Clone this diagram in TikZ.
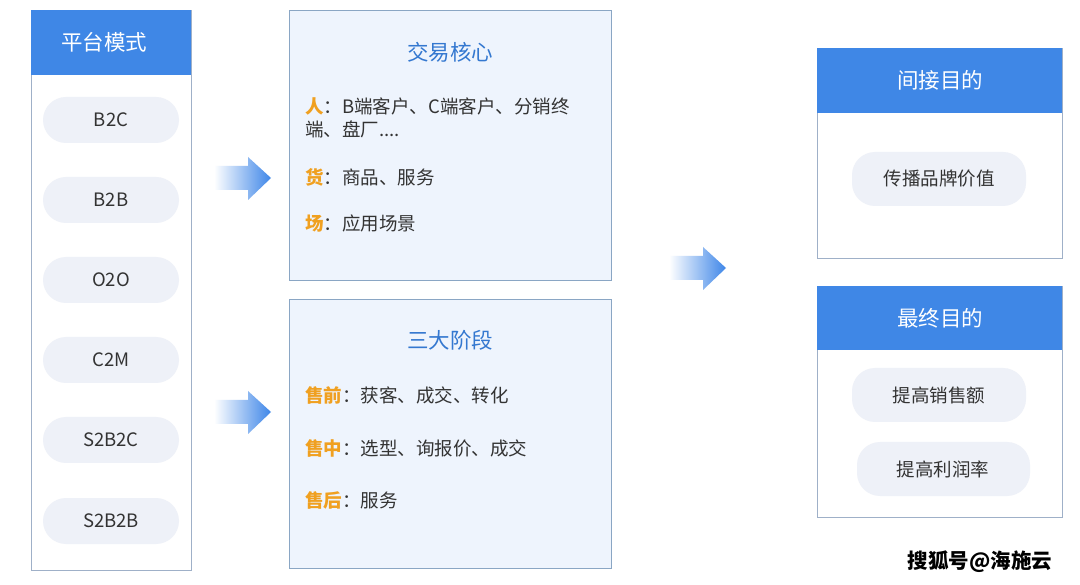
\documentclass[tikz,border=0pt]{standalone}
\usepackage{fontspec}
\setmainfont{Noto Sans CJK SC}
\definecolor{hdr}{HTML}{3F87E6}
\definecolor{pill}{HTML}{EEF1F8}
\definecolor{txt}{HTML}{333333}
\definecolor{bord}{HTML}{9FB0C8}
\definecolor{midfill}{HTML}{EEF4FD}
\definecolor{midbord}{HTML}{8AA6C4}
\definecolor{ttl}{HTML}{3478D0}
\definecolor{org}{HTML}{F0A020}
\definecolor{arr}{HTML}{3E86E8}
\tikzset{
  panel/.style={draw=bord, line width=0.8pt, fill=white},
  midbox/.style={draw=midbord, line width=0.8pt, fill=midfill},
  header/.style={fill=hdr, draw=none},
  hdrtext/.style={text=white, font=\fontsize{21.5}{24}\selectfont},
  pillbox/.style={fill=pill, rounded corners=23pt, draw=none},
  pilltext/.style={text=txt, font=\fontsize{18.5}{22}\selectfont},
  midtitle/.style={text=ttl, font=\fontsize{21.5}{24}\selectfont},
  line/.style={anchor=west, text=txt, align=left, inner sep=0pt, font=\fontsize{18.5}{23}\selectfont},
  blockarrow/.style={left color=white, right color=arr},
}
\newcommand{\lbl}[1]{\textcolor{org}{\bfseries #1}}
\begin{document}
\begin{tikzpicture}[x=1pt,y=-1pt]
\useasboundingbox (0,0) rectangle (1080,585);
\fill[white] (0,0) rectangle (1080,585);

% left panel
\draw[panel] (31,10) rectangle (191,570);
\fill[header] (31,10) rectangle (191,75);
\node[hdrtext] (lh) at (104,42) {平台模式};
\foreach \n/\t/\y in {p1/B2C/120, p2/B2B/200, p3/O2O/280, p4/C2M/360, p5/S2B2C/440, p6/S2B2B/521}{
  \fill[pillbox] (43,\y-23) rectangle (179,\y+23);
  \node[pilltext] (\n) at (111,\y) {\t};
}

% middle top
\draw[midbox] (289,10) rectangle (611,280);
\node[midtitle] (mt) at (450,52) {交易核心};
\node[line] (m1) at (305,118) {\lbl{人}：B端客户、C端客户、分销终\\端、盘厂....};
\node[line] (m2) at (305,177) {\lbl{货}：商品、服务};
\node[line] (m3) at (305,224) {\lbl{场}：应用场景};

% middle bottom
\draw[midbox] (289,299) rectangle (611,568);
\node[midtitle] (mb) at (450,340) {三大阶段};
\node[line] (n1) at (305,395) {\lbl{售前}：获客、成交、转化};
\node[line] (n2) at (305,448) {\lbl{售中}：选型、询报价、成交};
\node[line] (n3) at (305,500) {\lbl{售后}：服务};

% arrows
\shade[blockarrow]
  (214,166) -- (248,166) -- (248,157) -- (271,178) -- (248,200) -- (248,190) -- (214,190) -- cycle;
\shade[blockarrow]
  (214,400) -- (248,400) -- (248,391) -- (271,412) -- (248,434) -- (248,424) -- (214,424) -- cycle;
\shade[blockarrow]
  (669,256) -- (703,256) -- (703,247) -- (726,268) -- (703,290) -- (703,280) -- (669,280) -- cycle;

% right top
\draw[panel] (817,48) rectangle (1062,258);
\fill[header] (817,48) rectangle (1062,113);
\node[hdrtext] (rt) at (940,80) {间接目的};
\fill[pillbox] (852,152) rectangle (1026,206);
\node[pilltext] (r1) at (939,179) {传播品牌价值};

% right bottom
\draw[panel] (817,286) rectangle (1062,517);
\fill[header] (817,286) rectangle (1062,350);
\node[hdrtext] (rb) at (940,318) {最终目的};
\fill[pillbox] (852,368) rectangle (1026,422);
\node[pilltext] (r2) at (939,395) {提高销售额};
\fill[pillbox] (857,442) rectangle (1030,496);
\node[pilltext] (r3) at (943,469) {提高利润率};

% watermark
\node[text=black, font=\bfseries\fontsize{20.5}{24}\selectfont] (wm) at (980,562) {搜狐号@海施云};
\end{tikzpicture}
\end{document}
